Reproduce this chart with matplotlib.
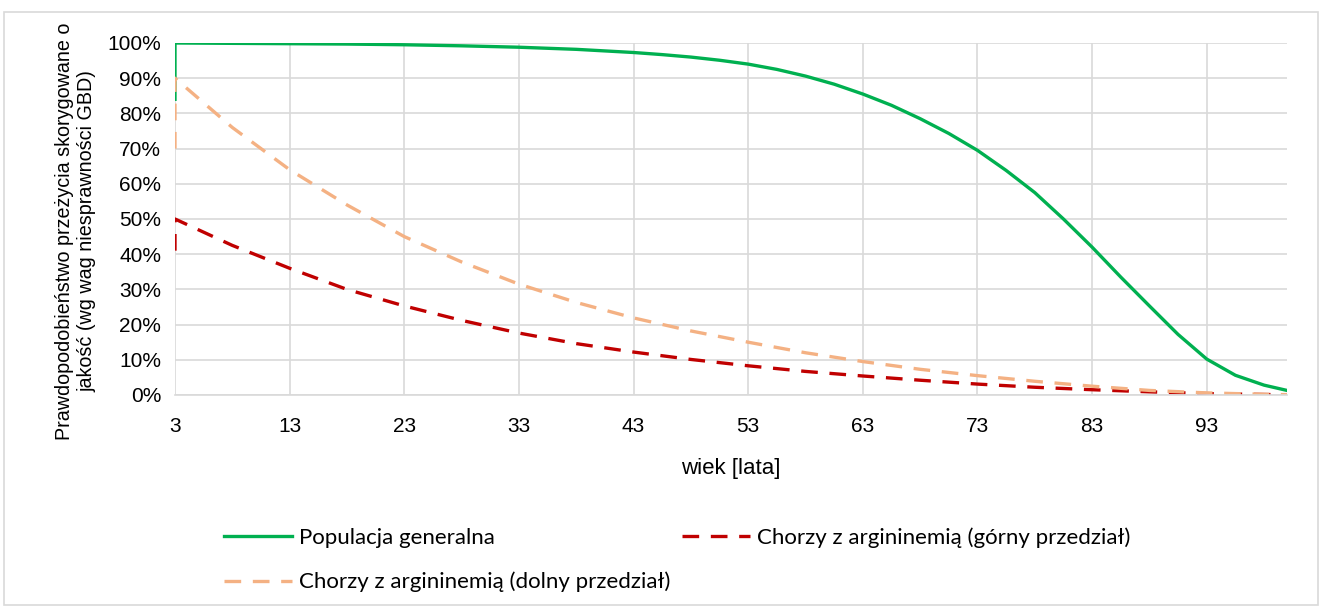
import matplotlib.pyplot as plt
from matplotlib.patches import Rectangle
from matplotlib.ticker import FuncFormatter

# wiek [lata] - wspólna siatka dla krzywych chorych (pierwszy punkt zdublowany: skok na starcie)
ages = [3, 3, 8, 13, 18, 23, 28, 33, 38, 43, 48, 53, 58, 63, 68, 73, 78, 83, 88, 93, 98, 100]
gorny = [41, 50, 42.5, 36, 30, 25.3, 21.2, 17.6, 14.6, 12.2, 10.1, 8.3, 6.7, 5.4, 4.2, 3.1,
         2.2, 1.5, 0.9, 0.4, 0.15, 0.05]
dolny = [70, 90, 76, 64, 54, 45, 37.8, 31.5, 26.3, 21.9, 18.2, 15.0, 12.0, 9.5, 7.3, 5.5,
         3.9, 2.5, 1.3, 0.6, 0.2, 0.1]

# populacja generalna - gęstsze punkty na spadku krzywej
ages_pop = [3, 3, 8, 13, 18, 23, 28, 33, 38, 43, 45.5, 48, 50.5, 53, 55.5, 58, 60.5, 63,
            65.5, 68, 70.5, 73, 75.5, 78, 80.5, 83, 85.5, 88, 90.5, 93, 95.5, 98, 100]
populacja = [84, 100, 99.9, 99.8, 99.7, 99.5, 99.2, 98.8, 98.2, 97.3, 96.7, 96.0, 95.1, 94.0,
             92.5, 90.6, 88.3, 85.5, 82.3, 78.5, 74.3, 69.5, 63.8, 57.5, 50.0, 42.0, 33.5,
             25.3, 17.2, 10.2, 5.6, 2.8, 1.3]

xticks = [3, 13, 23, 33, 43, 53, 63, 73, 83, 93]
labels = ['Populacja generalna', 'Chorzy z argininemią (dolny przedział)',
          'Chorzy z argininemią (górny przedział)']

fig = plt.figure(figsize=(13.22, 6.08), dpi=100)
ax = fig.add_axes([175 / 1322, 1 - 395 / 608, (1287 - 175) / 1322, (395 - 43) / 608])

l1, = ax.plot(ages_pop, populacja, color='#00B050', lw=2.4, solid_joinstyle='round')
l2, = ax.plot(ages, gorny, color='#C00000', lw=2.4, dashes=(5, 3.5))
l3, = ax.plot(ages, dolny, color='#F4B183', lw=2.4, dashes=(5, 3.5))

ax.set_xlim(3, 100)
ax.set_ylim(0, 100)
ax.set_xticks(xticks)
ax.set_yticks(range(0, 101, 10))
ax.yaxis.set_major_formatter(FuncFormatter(lambda v, p: f'{v:.0f}%'))
ax.grid(True, color='#D9D9D9', lw=1.2)
ax.set_axisbelow(True)
for s in ['top', 'right', 'left']:
    ax.spines[s].set_visible(False)
ax.spines['bottom'].set_color('#D9D9D9')
ax.spines['bottom'].set_linewidth(1.2)
ax.tick_params(length=0, labelsize=15, colors='#000000')
ax.tick_params(axis='x', pad=16)
ax.tick_params(axis='y', pad=10)
for t in ax.get_xticklabels() + ax.get_yticklabels():
    t.set_family('Liberation Sans')

ax.set_xlabel('wiek [lata]', fontsize=16, family='Liberation Sans', labelpad=16)
ax.set_ylabel('Prawdopodobieństwo przeżycia skorygowane o\njakość (wg wag niesprawności GBD)',
              fontsize=14.2, family='Liberation Sans')
ax.yaxis.set_label_coords(-0.071, 0.466)

# kolejność: kolumny wypełniane od góry, więc dolny przedział trafia pod populację
leg = fig.legend([l1, l3, l2], labels, ncol=2, loc='upper left',
                 bbox_to_anchor=(213 / 1322, 1 - 516 / 608), frameon=False, borderpad=0,
                 prop={'family': 'Lato', 'size': 16}, handlelength=3.05,
                 handletextpad=0.3, columnspacing=0.55, labelspacing=1.08)

# ramka wokół całego wykresu
fig.patches.append(Rectangle((4 / 1322, 3 / 608), 1314 / 1322, 593 / 608,
                             transform=fig.transFigure, fill=False,
                             edgecolor='#D9D9D9', lw=1.2))

fig.savefig('out.png', dpi=100)
